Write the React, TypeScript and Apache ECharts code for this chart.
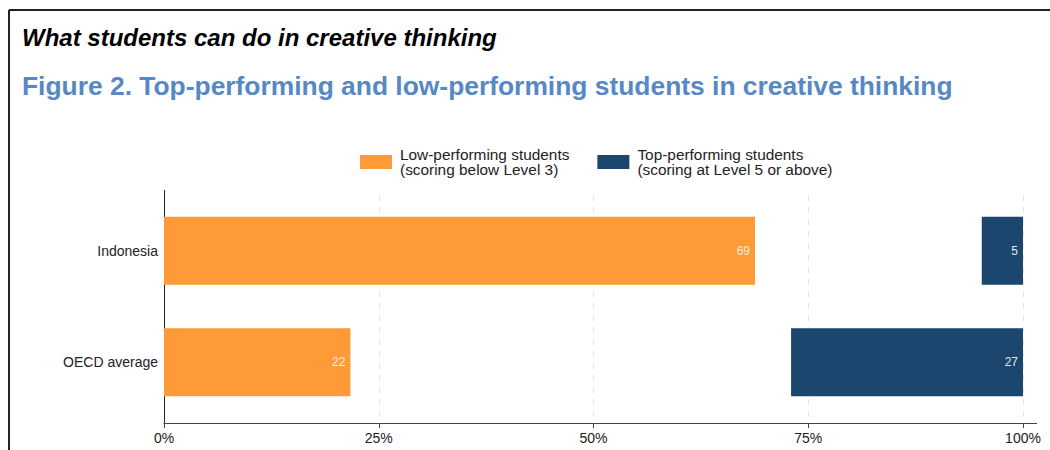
import React, { useEffect, useRef } from "react";
import * as echarts from "echarts";

const categories = ["Indonesia", "OECD average"];
const lowPerforming = [68.8, 21.7];
const topPerforming = [4.8, 27.0];
const xTicks = [0, 25, 50, 75, 100];
const legendNames = [
  "Low-performing students\n(scoring below Level 3)",
  "Top-performing students\n(scoring at Level 5 or above)",
];

export default function App() {
  const ref = useRef<HTMLDivElement>(null);
  useEffect(() => {
    document.body.style.margin = "0";
    const chart = echarts.init(ref.current!, null, { renderer: "svg" });
    const gap = categories.map((_, i) => 100 - lowPerforming[i] - topPerforming[i]);
    const font = "Liberation Sans, Arial, sans-serif";
    chart.setOption({
      animation: false,
      textStyle: { fontFamily: font },
      graphic: [
        { type: "line", shape: { x1: 9, y1: 10, x2: 1050, y2: 10 }, style: { stroke: "#222", lineWidth: 2 } },
        { type: "line", shape: { x1: 9, y1: 10, x2: 9, y2: 450 }, style: { stroke: "#222", lineWidth: 2 } },
        { type: "line", shape: { x1: 164.5, y1: 190, x2: 164.5, y2: 423 }, style: { stroke: "#222", lineWidth: 1 } },
        { type: "line", shape: { x1: 164, y1: 423.5, x2: 1037, y2: 423.5 }, style: { stroke: "#444", lineWidth: 1 } },
        {
          type: "text", left: 22, top: 25,
          style: { text: "What students can do in creative thinking", font: `italic bold 24px ${font}`, fill: "#000" },
        },
        {
          type: "text", left: 22, top: 73,
          style: { text: "Figure 2. Top-performing and low-performing students in creative thinking", font: `bold 26.4px ${font}`, fill: "#5788c6" },
        },
      ],
      legend: {
        data: legendNames,
        left: 355,
        top: 142,
        icon: "rect",
        itemWidth: 32,
        itemHeight: 14,
        itemGap: 28,
        selectedMode: false,
        textStyle: { fontSize: 15.4, lineHeight: 15, color: "#222", fontFamily: font, padding: [0, 0, 0, 3] },
      },
      grid: { left: 164, right: 27, top: 195, bottom: 32 },
      xAxis: {
        type: "value",
        min: xTicks[0],
        max: xTicks[xTicks.length - 1],
        interval: 25,
        offset: 5,
        axisLine: { show: true, lineStyle: { color: "#444" } },
        axisTick: { show: true, length: 5, lineStyle: { color: "#444" } },
        axisLabel: { formatter: "{value}%", fontSize: 14, color: "#222", margin: 8 },
        splitLine: { show: true, lineStyle: { type: [6, 6], color: "#e6e6e6" } },
      },
      yAxis: {
        type: "category",
        data: categories,
        inverse: true,
        axisLine: { show: true, lineStyle: { color: "#222" } },
        axisTick: { show: false },
        axisLabel: { fontSize: 14, color: "#222", margin: 6 },
      },
      series: [
        {
          name: legendNames[0],
          type: "bar",
          stack: "s",
          data: lowPerforming,
          barCategoryGap: "39%",
          itemStyle: { color: "#fe9a37" },
          label: {
            show: true, position: "insideRight", fontSize: 12, color: "rgba(255,255,255,0.85)",
            formatter: (p: any) => Math.round(p.value).toString(),
          },
        },
        {
          name: "gap",
          type: "bar",
          stack: "s",
          data: gap,
          itemStyle: { color: "transparent" },
          silent: true,
        },
        {
          name: legendNames[1],
          type: "bar",
          stack: "s",
          data: topPerforming,
          itemStyle: { color: "#1b466d" },
          label: {
            show: true, position: "insideRight", fontSize: 12, color: "rgba(255,255,255,0.9)",
            formatter: (p: any) => Math.round(p.value).toString(),
          },
        },
      ],
    });
    return () => chart.dispose();
  }, []);
  return <div ref={ref} style={{ width: 1050, height: 450 }} />;
}
